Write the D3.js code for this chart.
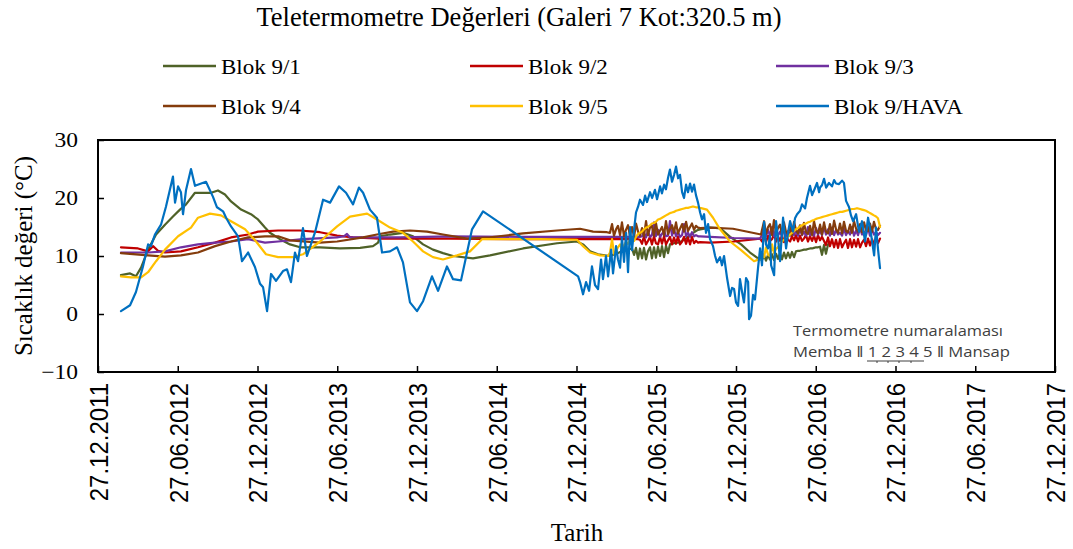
<!DOCTYPE html>
<html><head><meta charset="utf-8">
<script src="https://cdn.jsdelivr.net/npm/d3@7"></script>
<style>body{margin:0;background:#fff}</style>
</head><body>
<svg id="chart" width="1073" height="549"></svg>
<script>
// ---------- data (time in decimal years) ----------
const seriesNames = ["Blok 9/1","Blok 9/2","Blok 9/3","Blok 9/4","Blok 9/5","Blok 9/HAVA"];
const seriesColors = ["#4f6228","#c00000","#7030a0","#843c0c","#ffc000","#0070c0"];
const xTickValues = [2011.984,2012.484,2012.984,2013.484,2013.984,2014.484,2014.984,2015.484,2015.984,2016.484,2016.984,2017.484,2017.984];
const xTickLabels = ["27.12.2011","27.06.2012","27.12.2012","27.06.2013","27.12.2013","27.06.2014","27.12.2014","27.06.2015","27.12.2015","27.06.2016","27.12.2016","27.06.2017","27.12.2017"];
const yTickValues = [-10,0,10,20,30];

// sampling times of the dense (daily) readings
const T15 = [2015.194,2015.207,2015.219,2015.232,2015.244,2015.257,2015.269,2015.282,2015.294,2015.307,2015.319,2015.332,2015.345,2015.357,2015.370,2015.382,2015.395,2015.407,2015.420,2015.432,2015.445,2015.457,2015.470,2015.482,2015.495,2015.508,2015.520,2015.533,2015.545,2015.558,2015.570,2015.583,2015.595,2015.608,2015.620,2015.633,2015.646,2015.658,2015.671,2015.683,2015.696,2015.708,2015.721,2015.733,2015.746,2015.759];
const T16 = [2016.147,2016.160,2016.172,2016.185,2016.197,2016.210,2016.222,2016.235,2016.247,2016.260,2016.272,2016.285,2016.297,2016.310,2016.323,2016.335,2016.348,2016.360,2016.373,2016.385,2016.398,2016.410,2016.423,2016.435,2016.448,2016.461,2016.473,2016.486,2016.498,2016.511,2016.523,2016.536,2016.548,2016.561,2016.573,2016.586,2016.599,2016.611,2016.624,2016.636,2016.649,2016.661,2016.674,2016.686,2016.699,2016.711,2016.724,2016.737,2016.749,2016.762,2016.774,2016.787,2016.799,2016.812,2016.824,2016.837,2016.849,2016.862,2016.874,2016.887];

// Blok 9/1
const b1Pre = [[2012.128,6.7],[2012.185,7.0],[2012.222,6.5],[2012.254,8.0],[2012.298,11.1],[2012.348,13.7],[2012.404,15.4],[2012.454,16.8],[2012.498,18.0],[2012.536,18.9],[2012.592,20.9],[2012.630,20.9],[2012.693,20.9],[2012.736,21.3],[2012.780,20.6],[2012.818,19.4],[2012.881,18.0],[2012.943,17.2],[2012.987,16.3],[2013.031,14.9],[2013.062,14.0],[2013.125,12.9],[2013.188,12.0],[2013.251,11.5],[2013.376,11.5],[2013.501,11.3],[2013.627,11.4],[2013.708,11.7],[2013.740,12.3],[2013.752,13.4],[2013.815,13.7],[2013.896,14.0],[2013.959,13.4],[2014.022,12.0],[2014.084,11.1],[2014.147,10.5],[2014.210,10.0],[2014.335,9.6],[2014.442,10.1],[2014.649,11.3],[2014.862,12.2],[2014.987,12.5],[2015.025,12.0],[2015.069,10.8],[2015.119,10.3]];
const b1N15 = [10.0,10.1,10.3,10.4,10.5,10.7,10.8,10.9,11.0,11.1,11.2,11.3,10.2,11.4,9.5,11.3,9.6,11.4,9.4,10.8,11.5,9.6,11.5,9.7,11.6,10.0,11.7,9.8,11.8,10.5,12.0,12.1,12.2,12.3,12.3,12.4,12.6,12.8,13.0,13.3,13.6,13.8,14.1,14.3,14.5,14.6];
const b1Mid = [[2015.821,14.9],[2015.884,14.8],[2015.947,13.3],[2016.016,12.0],[2016.072,10.6],[2016.122,9.6]];
const b1N16 = [9.3,10.1,9.2,10.2,9.4,10.3,9.3,10.4,9.5,10.5,9.4,10.6,9.6,10.6,9.7,10.7,9.8,10.8,10.9,10.9,11.0,11.1,11.1,11.2,11.3,11.3,11.4,11.5,11.5,11.6,10.2,11.9,10.4,12.0,12.2];

// Blok 9/2
const b2Pre = [[2012.128,11.5],[2012.235,11.3],[2012.298,10.8],[2012.329,11.7],[2012.360,10.9],[2012.404,10.6],[2012.504,10.8],[2012.611,11.5],[2012.718,12.3],[2012.818,13.2],[2012.925,13.7],[2012.987,14.2],[2013.113,14.4],[2013.251,14.4],[2013.376,14.1],[2013.483,13.5],[2013.583,13.2],[2013.752,13.0],[2014.191,13.0],[2014.630,12.9],[2015.131,12.9]];
const b2N15 = [12.9,12.9,12.9,12.9,12.9,12.9,12.9,12.9,12.9,12.9,12.9,12.9,12.9,12.9,12.9,12.8,12.1,13.4,12.0,12.6,13.3,12.0,13.4,12.2,12.0,13.3,12.1,13.4,12.0,12.7,13.3,12.0,13.2,12.1,13.4,12.0,12.5,13.3,12.1,13.2,12.0,13.3,12.2,12.6,12.3,12.4];
const b2Mid = [[2015.821,12.3],[2015.972,12.5],[2016.135,13.0]];
const b2N16 = [12.5,13.6,12.4,13.5,12.6,12.9,13.7,12.5,13.4,12.6,13.5,12.4,13.6,12.8,12.5,13.4,12.7,13.6,12.5,13.5,12.6,13.0,13.6,12.5,13.4,12.6,13.5,12.4,13.6,12.7,13.3,12.6,11.9,13.2,11.7,12.9,11.5,12.8,11.4,12.9,11.5,12.2,12.8,11.4,12.9,11.5,12.8,11.6,12.9,11.5,12.3,12.8,11.7,13.0,11.8,12.9,12.0,13.2,12.2,13.0];

// Blok 9/3
const b3Pre = [[2012.128,10.6],[2012.298,10.6],[2012.404,10.8],[2012.504,11.5],[2012.611,12.0],[2012.718,12.3],[2012.818,12.5],[2012.925,12.9],[2013.031,12.3],[2013.113,12.5],[2013.269,12.9],[2013.483,13.2],[2013.526,13.4],[2013.545,13.8],[2013.564,13.2],[2013.878,13.2],[2014.191,13.4],[2014.630,13.3],[2015.131,13.3]];
const b3N15 = [13.3,13.3,13.3,13.3,13.3,13.3,13.3,13.3,13.3,13.3,13.3,13.3,13.3,13.3,13.3,13.3,13.4,14.0,13.2,14.3,13.3,13.6,15.8,13.4,14.5,13.3,13.8,14.4,13.4,13.5,16.0,13.5,14.6,13.4,14.2,13.3,13.6,15.5,13.4,14.0,13.3,14.1,13.4,13.6,13.4,13.4];
const b3Mid = [[2015.821,13.3],[2015.972,13.1],[2016.135,13.0]];
const b3N16 = [13.6,14.8,13.4,14.5,13.5,15.0,13.4,14.6,13.5,14.2,13.4,14.8,13.6,14.3,13.5,14.9,13.6,14.4,13.5,14.7,13.6,14.2,13.5,15.0,13.6,14.5,13.5,14.8,13.7,14.4,13.6,15.1,13.7,14.6,13.5,14.9,13.6,14.5,13.7,14.0,13.5,14.7,13.6,14.3,13.7,15.0,13.5,14.4,13.6,14.8,13.7,14.2,13.6,14.9,13.5,14.5,13.7,14.1,13.6,14.0];

// Blok 9/4
const b4Pre = [[2012.128,10.5],[2012.298,10.1],[2012.404,9.9],[2012.504,10.1],[2012.611,10.6],[2012.718,11.7],[2012.818,12.5],[2012.925,13.2],[2013.031,13.4],[2013.113,13.4],[2013.188,12.7],[2013.376,12.3],[2013.483,12.5],[2013.646,13.2],[2013.733,13.7],[2013.834,14.2],[2013.940,14.4],[2014.047,14.2],[2014.147,13.7],[2014.298,13.0],[2014.442,13.2],[2014.649,13.9],[2014.862,14.4],[2015.006,14.7],[2015.088,14.2],[2015.175,14.1]];
const b4N15 = [14.0,15.5,13.5,14.6,15.2,13.6,15.8,13.4,14.5,15.3,13.5,15.0,13.3,15.6,14.2,13.5,14.8,13.4,16.0,13.6,14.9,15.2,13.5,15.7,13.7,14.4,15.0,13.6,16.0,13.8,14.6,15.3,14.0,15.8,13.9,14.7,15.5,14.2,15.9,14.3,15.0,15.6,14.5,15.2,14.9,14.8];
const b4Mid = [[2015.821,14.9],[2015.965,14.7],[2016.141,13.7]];
const b4N16 = [14.5,16.0,13.8,15.0,15.5,13.6,16.2,13.9,14.8,15.4,13.7,15.8,14.2,13.8,15.2,13.6,15.9,14.5,13.9,15.3,13.7,15.7,14.1,13.8,15.2,13.6,16.0,14.4,13.9,15.4,13.7,15.8,14.2,13.9,15.5,13.8,16.1,14.6,14.0,15.6,13.9,15.9,14.3,14.1,15.4,14.0,16.0,14.7,14.2,15.5,14.1,15.8,14.4,14.3,15.6,14.2,15.9,14.6,14.5,15.2];

// Blok 9/5
const b5Pre = [[2012.128,6.5],[2012.191,6.3],[2012.254,6.3],[2012.298,7.2],[2012.348,9.1],[2012.404,11.1],[2012.486,13.4],[2012.567,14.9],[2012.611,16.6],[2012.686,17.3],[2012.755,17.0],[2012.818,16.0],[2012.906,14.6],[2012.975,12.5],[2013.037,10.3],[2013.113,9.8],[2013.207,9.8],[2013.269,10.3],[2013.376,12.5],[2013.483,15.1],[2013.564,16.8],[2013.671,17.3],[2013.733,16.3],[2013.815,14.9],[2013.896,14.0],[2013.959,12.5],[2014.022,10.8],[2014.084,9.8],[2014.147,9.4],[2014.235,10.1],[2014.316,10.8],[2014.392,12.9],[2014.548,12.9],[2014.755,12.9],[2014.987,12.8],[2015.025,11.7],[2015.069,10.6],[2015.131,10.1],[2015.182,10.0]];
const b5N15 = [10.6,12.9,10.4,10.8,11.5,12.0,11.2,11.8,12.4,12.1,12.8,13.0,12.6,13.3,13.8,14.0,14.2,14.6,14.9,15.0,15.3,15.6,15.7,15.9,16.3,16.4,16.6,16.8,17.0,17.2,17.4,17.5,17.6,17.8,17.9,18.0,18.1,18.2,18.3,18.3,18.4,18.5,18.5,18.4,18.4,18.3];
const b5Mid = [[2015.802,18.0],[2015.840,16.6],[2015.884,14.6],[2015.947,12.5],[2016.016,11.0],[2016.097,9.1],[2016.135,9.5]];
const b5N16 = [10.5,9.8,11.5,10.2,10.0,12.0,10.5,11.2,11.5,12.0,12.5,12.8,13.0,13.3,13.7,14.0,14.3,14.6,14.8,15.1,15.3,15.5,15.6,15.8,15.9,16.1,16.2,16.4,16.5,16.6,16.7,16.8,16.9,17.0,17.1,17.2,17.3,17.4,17.5,17.6,17.6,17.7,17.8,17.9,18.0,18.1,18.1,18.2,18.2,18.1,18.0,17.9,17.8,17.6,17.4,17.2,17.0,16.8,16.5,15.0];

// Blok 9/HAVA
const hava = [[2012.128,0.5],[2012.185,1.5],[2012.222,3.8],[2012.266,8.2],[2012.298,12],[2012.316,11.7],[2012.341,13.7],[2012.379,15.4],[2012.410,18.5],[2012.454,23.7],[2012.467,19.2],[2012.486,22],[2012.504,21],[2012.517,17.2],[2012.536,21.4],[2012.567,25],[2012.592,22.1],[2012.661,22.8],[2012.705,20.2],[2012.730,18.4],[2012.768,17.7],[2012.787,16.6],[2012.818,15.1],[2012.862,13.4],[2012.887,9.1],[2012.925,10.6],[2012.968,8.1],[2013.000,5.2],[2013.019,4.6],[2013.044,0.5],[2013.069,6.9],[2013.100,5.7],[2013.144,7.4],[2013.169,7.7],[2013.194,5.5],[2013.219,10.6],[2013.238,9.1],[2013.269,14.8],[2013.294,10],[2013.345,14.1],[2013.395,19.7],[2013.439,19.2],[2013.495,22],[2013.539,20.9],[2013.583,18.9],[2013.620,21.8],[2013.646,20.9],[2013.689,18],[2013.733,16.6],[2013.765,10.6],[2013.815,10.8],[2013.859,11.5],[2013.896,8.9],[2013.940,2],[2013.984,0.5],[2014.022,2.2],[2014.078,6.5],[2014.116,4],[2014.172,8.2],[2014.210,6],[2014.260,5.8],[2014.329,14.6],[2014.398,17.7],[2014.994,6.5],[2015.006,5.5],
[2015.025,3.4],[2015.044,5.5],[2015.063,4.0],[2015.081,8.2],[2015.100,5.0],[2015.119,4.3],[2015.138,9.4],[2015.150,6.0],[2015.169,10.0],[2015.182,6.5],[2015.201,11.1],[2015.213,7.0],[2015.232,11.7],[2015.244,9.4],[2015.257,8.0],[2015.269,13.2],[2015.282,9.0],[2015.295,14.0],[2015.307,7.2],[2015.320,15.0],[2015.332,11.0],[2015.345,14.6],[2015.357,17.5],[2015.370,18.5],[2015.382,19.7],[2015.401,18.8],[2015.414,20.4],[2015.426,19.3],[2015.445,21.0],[2015.458,20.0],[2015.476,21.4],[2015.489,19.8],[2015.508,22.0],[2015.520,20.8],[2015.533,22.3],[2015.545,21.5],[2015.558,23.5],[2015.570,24.9],[2015.583,22.8],[2015.596,24.0],[2015.608,25.4],[2015.621,23.4],[2015.633,24.0],[2015.646,21.0],[2015.658,20.0],[2015.671,22.3],[2015.683,21.0],[2015.696,22.5],[2015.708,21.1],[2015.721,22.3],[2015.733,20.5],[2015.746,19.2],[2015.759,17.5],[2015.771,16.3],[2015.784,17.2],[2015.796,14.0],[2015.809,15.5],[2015.821,12.9],[2015.840,11.7],[2015.853,10.0],[2015.865,8.9],[2015.884,9.8],[2015.896,8.4],[2015.909,10.0],[2015.928,6.2],[2015.947,3.1],[2015.959,4.5],[2015.972,4.3],[2015.984,2.0],[2015.997,1.4],[2016.009,6.0],[2016.022,3.8],[2016.034,2.0],[2016.047,6.2],[2016.060,5.5],[2016.066,-0.9],[2016.078,-0.3],[2016.091,3.3],[2016.103,2.5],[2016.122,7.9],[2016.135,11.3],[2016.147,8.4],[2016.160,15.9],[2016.172,12.0],[2016.185,11.3],[2016.197,13.5],[2016.204,8.4],[2016.223,6.7],[2016.235,16.0],[2016.248,13.0],[2016.260,9.1],[2016.279,16.6],[2016.298,11.3],[2016.310,14.0],[2016.323,16.0],[2016.342,14.2],[2016.354,16.5],[2016.367,17.2],[2016.386,17.8],[2016.398,18.9],[2016.417,18.2],[2016.429,20.0],[2016.448,22.1],[2016.461,20.5],[2016.473,21.3],[2016.492,22.6],[2016.505,21.0],[2016.511,21.8],[2016.523,22.2],[2016.536,23.3],[2016.549,21.8],[2016.567,22.6],[2016.586,22.0],[2016.599,23.1],[2016.611,22.5],[2016.630,22.4],[2016.649,23.0],[2016.661,22.6],[2016.674,19.5],[2016.693,18.4],[2016.705,17.0],[2016.718,16.0],[2016.737,17.2],[2016.755,14.2],[2016.774,16.0],[2016.793,12.5],[2016.812,16.6],[2016.831,13.7],[2016.850,10.1],[2016.862,14.9],[2016.875,11.0],[2016.887,7.9]];

// ---------- assemble ----------
function build(pre, n15, mid, n16) {
  return pre.concat(n15.map((v,i)=>[T15[i],v]), mid, n16.map((v,i)=>[T16[i],v]));
}
const series = [
  build(b1Pre,b1N15,b1Mid,b1N16),
  build(b2Pre,b2N15,b2Mid,b2N16),
  build(b3Pre,b3N15,b3Mid,b3N16),
  build(b4Pre,b4N15,b4Mid,b4N16),
  build(b5Pre,b5N15,b5Mid,b5N16),
  hava
];

// ---------- drawing ----------
const svg = d3.select("#chart");
svg.append("rect").attr("width",1073).attr("height",549).attr("fill","#fff");
const L = 98, R = 1055, T = 140, B = 372;
const x = d3.scaleLinear().domain([2011.984, 2017.984]).range([L, R]);
const y = d3.scaleLinear().domain([-10, 30]).range([B, T]);
const serif = "'Liberation Serif','Times New Roman',serif";
const sans = "'Liberation Sans',Arial,sans-serif";

svg.append("text").attr("x",519).attr("y",26).attr("text-anchor","middle")
  .style("font-family",serif).style("font-size","26.5px").attr("fill","#000")
  .text("Teletermometre Değerleri (Galeri 7 Kot:320.5 m)");

// legend
const legX = [163, 470, 776], legY = [66, 106];
seriesNames.forEach((n,i)=>{
  const cx = legX[i%3], cy = legY[Math.floor(i/3)];
  const g = svg.append("g").attr("transform",`translate(${cx},${cy})`);
  g.append("line").attr("x1",0).attr("x2",53).attr("y1",0).attr("y2",0)
    .attr("stroke",seriesColors[i]).attr("stroke-width",2.5);
  g.append("text").attr("transform","translate(58,8) scale(1.15,1)")
    .style("font-family",serif).style("font-size","20px").attr("fill","#000").text(n);
});

// clip
svg.append("clipPath").attr("id","clip").append("rect")
  .attr("x",L).attr("y",T).attr("width",R-L).attr("height",B-T);

const line = d3.line().x(d=>x(d[0])).y(d=>y(d[1]));
const plot = svg.append("g").attr("clip-path","url(#clip)");
series.forEach((s,i)=>{
  plot.append("path").datum(s).attr("d",line).attr("fill","none")
    .attr("stroke",seriesColors[i]).attr("stroke-width",2.2)
    .attr("stroke-linejoin","round").attr("stroke-linecap","round");
});

// axes
const xAxis = svg.append("g").attr("transform",`translate(0,${B})`)
  .call(d3.axisBottom(x).tickValues(xTickValues).tickSize(-6).tickFormat((d,i)=>xTickLabels[i]));
xAxis.select(".domain").remove();
xAxis.selectAll(".tick line").attr("stroke","#000").attr("stroke-width",1.5);
xAxis.selectAll(".tick text")
  .attr("x",-11).attr("y",0).attr("dy","0.35em")
  .attr("transform","rotate(-90) scale(1,1.1)")
  .style("text-anchor","end").style("font-family",sans).style("font-size","24px").attr("fill","#000");

const yAxis = svg.append("g").attr("transform",`translate(${L},0)`)
  .call(d3.axisLeft(y).tickValues(yTickValues).tickSize(-6).tickPadding(20));
yAxis.select(".domain").remove();
yAxis.selectAll(".tick line").attr("stroke","#000").attr("stroke-width",1.5);
yAxis.selectAll(".tick text")
  .attr("transform","translate(-20,0) scale(1.12,1) translate(20,0)")
  .style("font-family",serif).style("font-size","21px").attr("fill","#000");

// plot border
svg.append("rect").attr("x",L).attr("y",T).attr("width",R-L).attr("height",B-T)
  .attr("fill","none").attr("stroke","#000").attr("stroke-width",2);

// axis titles
svg.append("text").attr("transform","translate(32,256) rotate(-90)").attr("text-anchor","middle")
  .style("font-family",serif).style("font-size","25px").attr("fill","#000").text("Sıcaklık değeri (°C)");
svg.append("text").attr("x",577).attr("y",541).attr("text-anchor","middle")
  .style("font-family",serif).style("font-size","25px").attr("fill","#000").text("Tarih");

// annotation
const ann = svg.append("g").style("font-family","'Open Sans','Liberation Sans',sans-serif").attr("fill","#404040");
ann.append("text").attr("x",793).attr("y",336).style("font-size","15px")
  .attr("textLength",210).attr("lengthAdjust","spacingAndGlyphs").text("Termometre numaralaması");
ann.append("text").attr("x",793).attr("y",357).style("font-size","15px")
  .attr("textLength",217).attr("lengthAdjust","spacingAndGlyphs").text("Memba ‖ 1 2 3 4 5 ‖ Mansap");
ann.append("line").attr("x1",867).attr("x2",924).attr("y1",361).attr("y2",361).attr("stroke","#404040").attr("stroke-width",1);
[877,888,899,911].forEach(px=>ann.append("line").attr("x1",px).attr("x2",px).attr("y1",361).attr("y2",363).attr("stroke","#404040").attr("stroke-width",1));
</script>
</body></html>
